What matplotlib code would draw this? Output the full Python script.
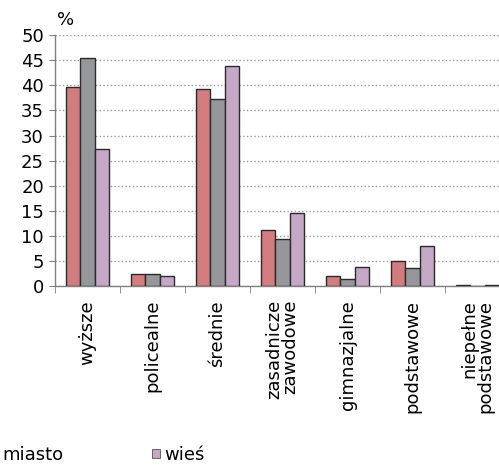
import numpy as np
import matplotlib
matplotlib.use("Agg")
import matplotlib.pyplot as plt
from matplotlib.patches import Patch

plt.rcParams['font.family'] = ['DejaVu Sans']

# education levels
categories = ['wyższe', 'policealne', 'średnie', 'zasadnicze\nzawodowe',
              'gimnazjalne', 'podstawowe', 'niepełne\npodstawowe']
series_names = ['ogółem', 'miasto', 'wieś']
ogolem = [39.6, 2.4, 39.3, 11.1, 2.1, 5.0, 0.15]
miasto = [45.5, 2.4, 37.3, 9.4, 1.4, 3.7, 0.1]
wies = [27.3, 2.1, 43.9, 14.5, 3.8, 8.0, 0.2]
colors = ['#D27C80', '#96979B', '#C5A8C5']

fig = plt.figure(figsize=(4.99, 4.69), dpi=100)
ax = fig.add_axes([0.1102, 0.390, 0.912, 0.535])

x = np.arange(len(categories))
w = 0.22
for i, (vals, col) in enumerate(zip([ogolem, miasto, wies], colors)):
    ax.bar(x + (i - 1) * w, vals, width=w, color=col, edgecolor='#2b2b2b',
           linewidth=1.0, zorder=3)

ax.set_xlim(-0.5, len(categories) - 0.5)
ax.set_ylim(0, 50)
ax.set_yticks(np.arange(0, 51, 5))
ax.yaxis.grid(True, linestyle=':', color='#9a9a9a', linewidth=1.0, zorder=0)

ax.set_xticks(x)
ax.set_xticklabels(categories, rotation=90, ha='center', va='top',
                   multialignment='right', fontsize=13, linespacing=0.85)
ax.set_xticks(np.arange(len(categories) + 1) - 0.5, minor=True)
ax.tick_params(axis='x', which='major', length=0, pad=10)
ax.tick_params(axis='x', which='minor', length=5, direction='out', color='#808080')
ax.tick_params(axis='y', length=4, direction='out', color='#808080',
               labelsize=13, pad=4)

for s in ['top', 'right']:
    ax.spines[s].set_visible(False)
for s in ['left', 'bottom']:
    ax.spines[s].set_color('#808080')
    ax.spines[s].set_linewidth(1.0)

ax.text(0.005, 1.025, '%', transform=ax.transAxes, fontsize=13, ha='left', va='bottom')

# only the part of the legend that is inside the frame (ogółem lies off the left edge)
handles = [Patch(facecolor=c, edgecolor='#555555', linewidth=0.6) for c in colors[1:]]
fig.legend(handles, series_names[1:], loc='center left', ncol=2, frameon=False,
           bbox_to_anchor=(-0.020, 0.030), fontsize=13, handlelength=0.45,
           handleheight=0.45, handletextpad=0.22, columnspacing=4.9,
           borderpad=0, borderaxespad=0)

fig.savefig('out.png', dpi=100)
